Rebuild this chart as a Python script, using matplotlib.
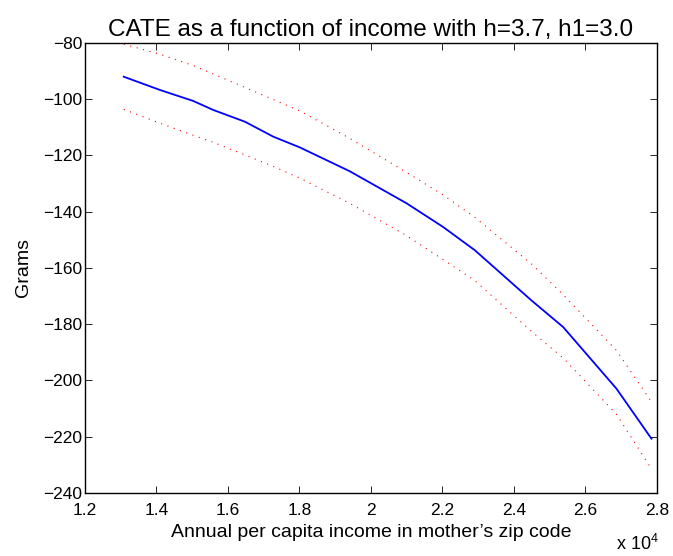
import numpy as np
import matplotlib
matplotlib.use("Agg")
import matplotlib.pyplot as plt

# income in units of 10^4 dollars
income = [1.309, 1.41, 1.503, 1.559, 1.648, 1.727, 1.801, 1.941, 2.10,
          2.202, 2.291, 2.449, 2.538, 2.687, 2.785]
cate = [-92.0, -96.7, -100.6, -103.8, -108.0, -113.3, -117.1, -125.6, -137.0,
        -145.4, -153.7, -171.5, -181.0, -202.9, -220.7]
upper = [-80.4, -84.0, -88.0, -91.0, -95.8, -100.1, -104.1, -113.9, -126.0,
         -134.0, -142.0, -158.5, -169.5, -189.3, -207.6]
lower = [-103.6, -108.5, -112.8, -115.3, -119.8, -123.9, -128.0, -137.0, -148.5,
         -157.0, -164.5, -182.5, -192.0, -212.0, -231.4]

xticks = [1.2, 1.4, 1.6, 1.8, 2.0, 2.2, 2.4, 2.6, 2.8]
xticklabels = ["1.2", "1.4", "1.6", "1.8", "2", "2.2", "2.4", "2.6", "2.8"]
yticks = [-240, -220, -200, -180, -160, -140, -120, -100, -80]

plt.rcParams["font.family"] = ["Liberation Sans", "DejaVu Sans"]
plt.rcParams["mathtext.default"] = "regular"

fig = plt.figure(figsize=(6.73, 5.56), dpi=100)
ax = fig.add_axes([0.126, 0.1133, 0.850, 0.8094])

ax.plot(income, cate, color="#0000ff", lw=1.3)
ax.plot(income, upper, color="#ff0000", lw=0.8, linestyle=(0, (1, 5)))
ax.plot(income, lower, color="#ff0000", lw=0.8, linestyle=(0, (1, 5)))

ax.set_xlim(1.2, 2.8)
ax.set_ylim(-240, -80)
ax.set_xticks(xticks)
ax.set_xticklabels(xticklabels)
ax.set_yticks(yticks)

ax.tick_params(direction="in", top=True, right=True, labelsize=12.5,
               length=5, width=0.6)
ax.tick_params(axis="x", pad=7)
ax.tick_params(axis="y", pad=2)
for s in ax.spines.values():
    s.set_linewidth(1.0)

ax.set_title("CATE as a function of income with h=3.7, h1=3.0", fontsize=17.5, pad=5)
ax.set_xlabel("Annual per capita income in mother\u2019s zip code", fontsize=14)
ax.set_ylabel("Grams", fontsize=14)
ax.xaxis.set_label_coords(0.5, -0.068)
ax.yaxis.set_label_coords(-0.092, 0.5)
fig.text(0.915, 0.010, r"x 10$^{4}$", fontsize=13)

fig.savefig("out.png", dpi=100)
